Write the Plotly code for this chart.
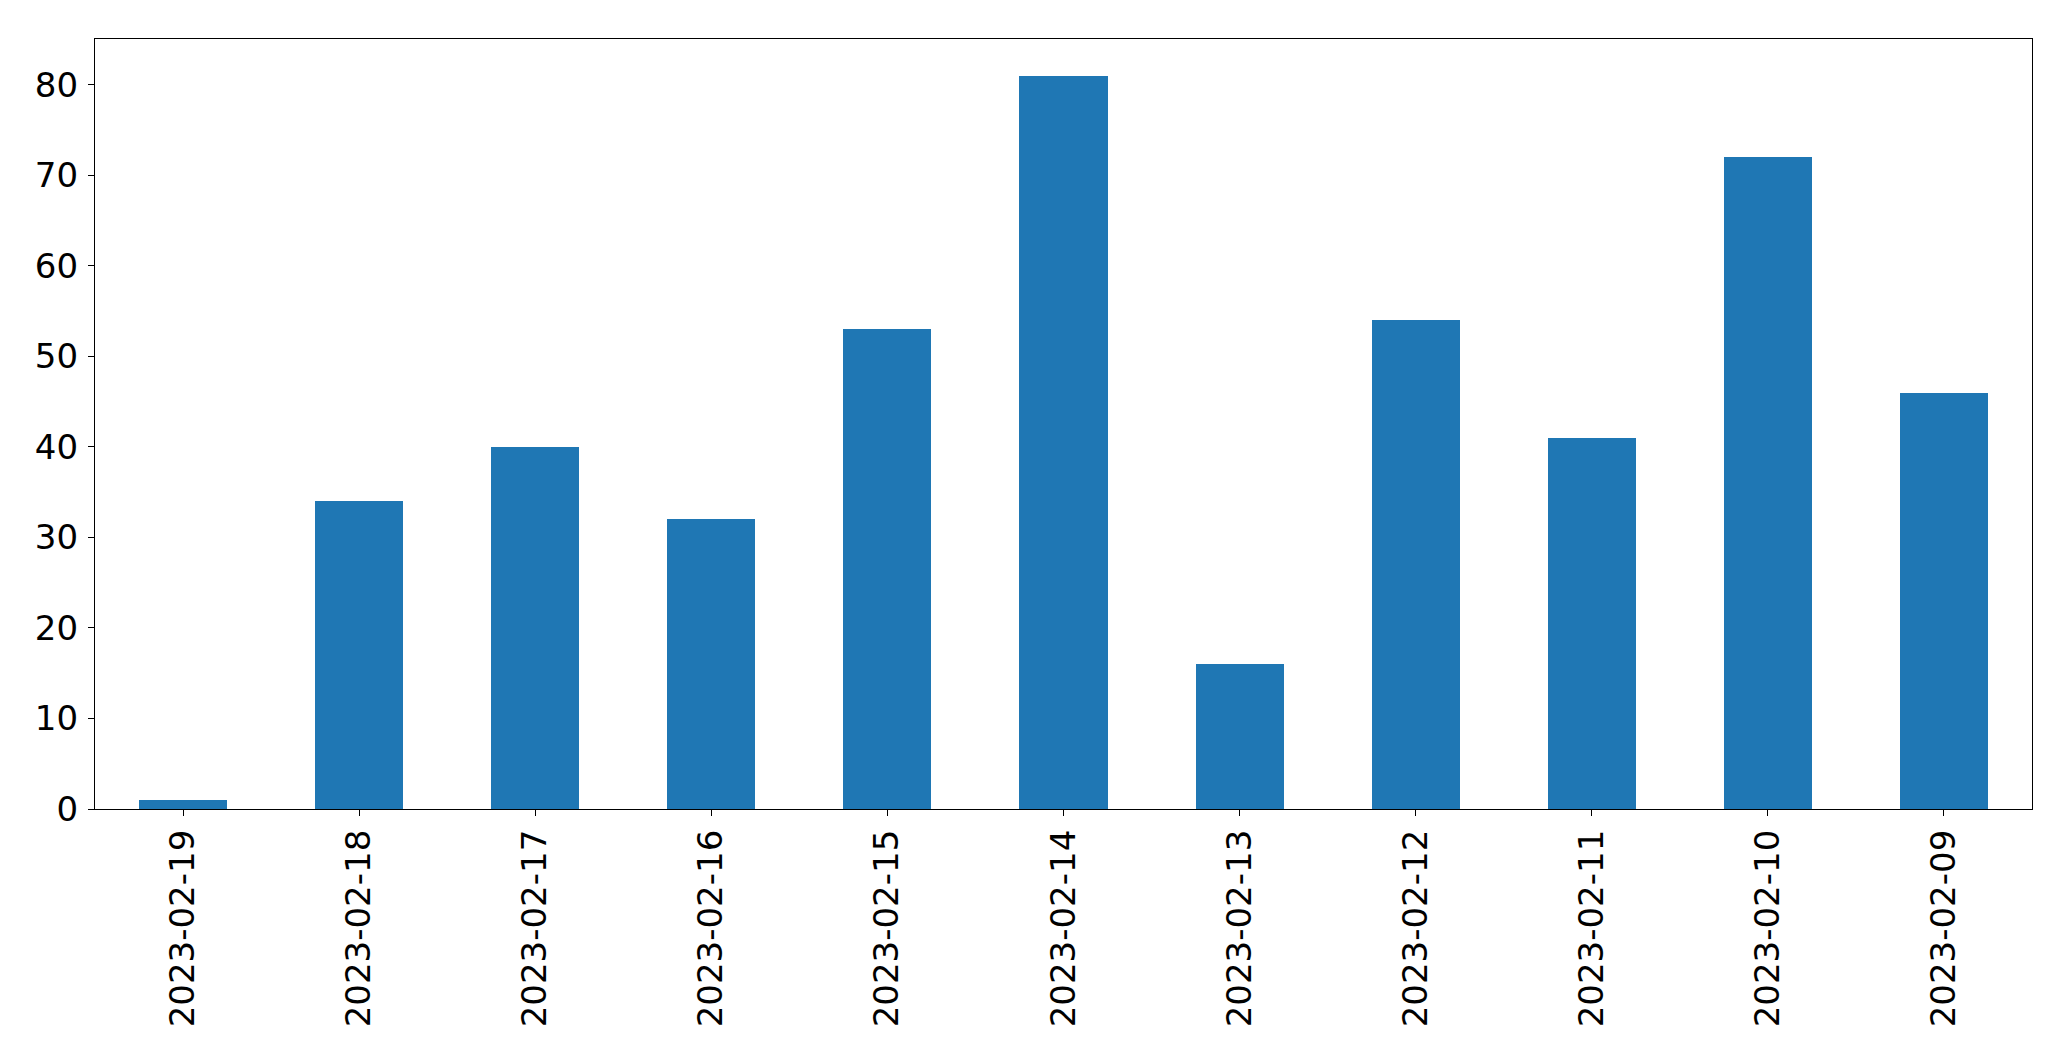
import plotly.graph_objects as go

dates = ["2023-02-19", "2023-02-18", "2023-02-17", "2023-02-16", "2023-02-15",
         "2023-02-14", "2023-02-13", "2023-02-12", "2023-02-11", "2023-02-10", "2023-02-09"]
counts = [1, 34, 40, 32, 53, 81, 16, 54, 41, 72, 46]
y_ticks = [0, 10, 20, 30, 40, 50, 60, 70, 80]

fig = go.Figure(go.Bar(x=dates, y=counts, width=0.5, marker=dict(color="#1f77b4", line=dict(width=0))))

fig.update_layout(
    width=2071, height=1061,
    margin=dict(l=95, r=39, t=39, b=252, autoexpand=False),
    plot_bgcolor="white", paper_bgcolor="white",
    font=dict(family="DejaVu Sans", size=34, color="black"),
    showlegend=False,
    bargap=0,
)
fig.update_xaxes(
    type="category", range=[-0.5, len(dates) - 0.5],
    tickangle=-90, ticks="outside", ticklen=6, tickwidth=1.2, tickcolor="black",
    showline=True, mirror=True, linecolor="black", linewidth=1.3,
    showgrid=False, ticklabelstandoff=0,
)
fig.update_yaxes(
    range=[0, 85.05], tickvals=y_ticks, ticks="outside", ticklen=6, tickwidth=1.2, tickcolor="black",
    showline=True, mirror=True, linecolor="black", linewidth=1.3,
    showgrid=False, zeroline=False, ticklabelstandoff=3,
)

fig.write_html("out.html", config={"displayModeBar": False},
               post_script="document.body.style.margin='0';document.body.style.overflow='hidden';")
